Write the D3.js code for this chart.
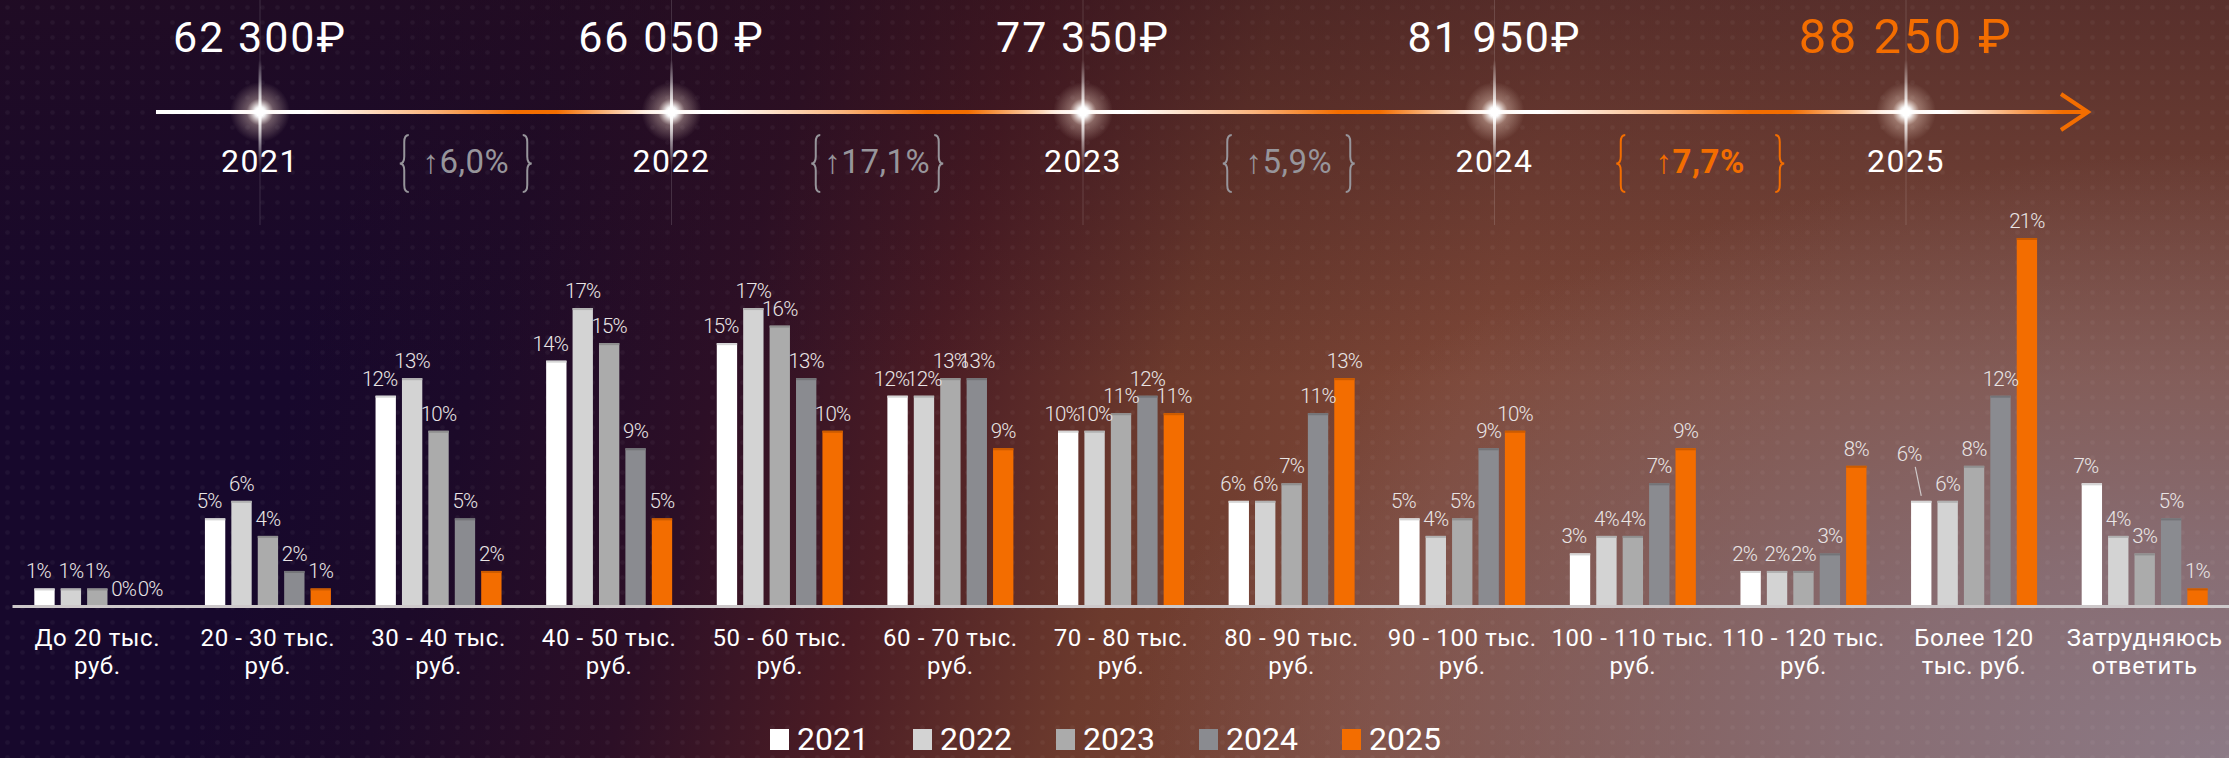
<!DOCTYPE html>
<html>
<head>
<meta charset="utf-8">
<script src="https://cdn.jsdelivr.net/npm/d3@7"></script>
<style>
  html, body { margin: 0; padding: 0; background: #1b0929; overflow: hidden; }
  svg { display: block; }
  text { font-family: Roboto, "Noto Sans", sans-serif; }
</style>
</head>
<body>
<script>
// ---- data ----
const years = ["2021", "2022", "2023", "2024", "2025"];
const categories = [
  "До 20 тыс.\nруб.", "20 - 30 тыс.\nруб.", "30 - 40 тыс.\nруб.", "40 - 50 тыс.\nруб.",
  "50 - 60 тыс.\nруб.", "60 - 70 тыс.\nруб.", "70 - 80 тыс.\nруб.", "80 - 90 тыс.\nруб.",
  "90 - 100 тыс.\nруб.", "100 - 110 тыс.\nруб.", "110 - 120 тыс.\nруб.",
  "Более 120\nтыс. руб.", "Затрудняюсь\nответить"
];
const v2021 = [1, 5, 12, 14, 15, 12, 10, 6, 5, 3, 2, 6, 7];
const v2022 = [1, 6, 13, 17, 17, 12, 10, 6, 4, 4, 2, 6, 4];
const v2023 = [1, 4, 10, 15, 16, 13, 11, 7, 5, 4, 2, 8, 3];
const v2024 = [0, 2, 5, 9, 13, 13, 12, 11, 9, 7, 3, 12, 5];
const v2025 = [0, 1, 2, 5, 10, 9, 11, 13, 10, 9, 8, 21, 1];

const salaries = [62300, 66050, 77350, 81950, 88250];
const salaryLabels = ["62 300₽", "66 050 ₽", "77 350₽", "81 950₽", "88 250 ₽"];
const growth = ["6,0", "17,1", "5,9", "7,7"];

const colors = ["#ffffff", "#d3d3d3", "#ababab", "#8a8b90", "#f36d00"];
const orange = "#f36d00";

const series = [v2021, v2022, v2023, v2024, v2025];
const rows = categories.map((c, i) => ({cat: c, vals: years.map((y, j) => ({year: y, value: series[j][i]}))}));

// ---- layout ----
const W = 2229, H = 758;
const svg = d3.select("body").append("svg").attr("width", W).attr("height", H);
const defs = svg.append("defs");

// background
const base = defs.append("linearGradient").attr("id", "bgBase")
  .attr("gradientUnits", "userSpaceOnUse")
  .attr("x1", 400).attr("y1", 0).attr("x2", 1800).attr("y2", 400);
[[0, "#17082c"], [0.12, "#1c0a29"], [0.28, "#2c0f26"], [0.42, "#4a1c24"],
 [0.58, "#6c3a2d"], [0.78, "#7d4737"], [1, "#7e4a3a"]]
  .forEach(s => base.append("stop").attr("offset", s[0]).attr("stop-color", s[1]));

const topDark = defs.append("linearGradient").attr("id", "topDark")
  .attr("gradientUnits", "userSpaceOnUse").attr("x1", 0).attr("y1", 0).attr("x2", 0).attr("y2", 380);
topDark.append("stop").attr("offset", 0).attr("stop-color", "#2a0f1a").attr("stop-opacity", 0.45);
topDark.append("stop").attr("offset", 1).attr("stop-color", "#2a0f1a").attr("stop-opacity", 0);

const mauve = defs.append("radialGradient").attr("id", "mauve")
  .attr("gradientUnits", "userSpaceOnUse").attr("cx", W).attr("cy", H).attr("r", 1100)
  .attr("gradientTransform", `translate(${W},${H}) scale(1,0.55) translate(${-W},${-H})`);
mauve.append("stop").attr("offset", 0).attr("stop-color", "#8c7a86").attr("stop-opacity", 1);
mauve.append("stop").attr("offset", 0.35).attr("stop-color", "#8a7580").attr("stop-opacity", 0.8);
mauve.append("stop").attr("offset", 1).attr("stop-color", "#8a7580").attr("stop-opacity", 0);

const dots = defs.append("pattern").attr("id", "dots").attr("patternUnits", "userSpaceOnUse")
  .attr("width", 15).attr("height", 15);
dots.append("circle").attr("cx", 7.5).attr("cy", 7.5).attr("r", 2.3).attr("fill", "#fff").attr("opacity", 0.04);

svg.append("rect").attr("width", W).attr("height", H).attr("fill", "url(#bgBase)");
svg.append("rect").attr("width", W).attr("height", H).attr("fill", "url(#topDark)");
svg.append("rect").attr("width", W).attr("height", H).attr("fill", "url(#mauve)");
svg.append("rect").attr("width", W).attr("height", H).attr("fill", "url(#dots)");

// ---- timeline ----
const xt = d3.scalePoint().domain(years).range([260, 1906]);
const lineX0 = 156, lineX1 = 2088, lineY = 112;

// faint vertical guides through each year
svg.append("g").selectAll("line").data(years).join("line")
  .attr("x1", d => xt(d)).attr("x2", d => xt(d)).attr("y1", 0).attr("y2", 225)
  .attr("stroke", "#fff").attr("stroke-opacity", 0.14).attr("stroke-width", 1);

const lg = defs.append("linearGradient").attr("id", "lineGrad")
  .attr("gradientUnits", "userSpaceOnUse").attr("x1", lineX0).attr("x2", lineX1).attr("y1", 0).attr("y2", 0);
const off = x => Math.max(0, Math.min(1, (x - lineX0) / (lineX1 - lineX0)));
const lstops = [[lineX0, "#ffffff"]];
years.forEach((y, i) => {
  const s = xt(y);
  if (i < years.length - 1) {
    const e = xt(years[i + 1]), g = e - s;
    lstops.push([s, "#ffffff"], [s + 0.12 * g, "#ffffff"], [s + 0.42 * g, "#f9b27a"],
      [s + 0.62 * g, orange], [s + 0.72 * g, orange], [e - 0.08 * g, "#fde3cf"], [e, "#ffffff"]);
  } else {
    lstops.push([s, "#ffffff"], [s + 40, "#ffffff"], [s + 110, "#f8a463"], [lineX1 - 25, orange], [lineX1, orange]);
  }
});
lstops.forEach(s => lg.append("stop").attr("offset", off(s[0])).attr("stop-color", s[1]));

svg.append("line").attr("x1", lineX0).attr("x2", lineX1 - 2).attr("y1", lineY).attr("y2", lineY)
  .attr("stroke", "url(#lineGrad)").attr("stroke-width", 4);
svg.append("path")
  .attr("d", `M${lineX1 - 27},${lineY - 18} L${lineX1},${lineY} L${lineX1 - 27},${lineY + 18}`)
  .attr("fill", "none").attr("stroke", orange).attr("stroke-width", 4);

// star glows
const glow = defs.append("radialGradient").attr("id", "glow");
[[0, 1, "#ffffff"], [0.18, 0.95, "#ffffff"], [0.45, 0.35, "#ffe6d6"], [1, 0, "#ffe6d6"]]
  .forEach(s => glow.append("stop").attr("offset", s[0]).attr("stop-color", s[2]).attr("stop-opacity", s[1]));
const flareV = defs.append("linearGradient").attr("id", "flareV").attr("x1", 0).attr("x2", 0).attr("y1", 0).attr("y2", 1);
const flareH = defs.append("linearGradient").attr("id", "flareH").attr("x1", 0).attr("x2", 1).attr("y1", 0).attr("y2", 0);
[flareV, flareH].forEach(g => {
  g.append("stop").attr("offset", 0).attr("stop-color", "#fff").attr("stop-opacity", 0);
  g.append("stop").attr("offset", 0.5).attr("stop-color", "#fff").attr("stop-opacity", 1);
  g.append("stop").attr("offset", 1).attr("stop-color", "#fff").attr("stop-opacity", 0);
});
const stars = svg.append("g").selectAll("g").data(years).join("g")
  .attr("transform", d => `translate(${xt(d)},${lineY})`);
stars.append("circle").attr("r", 30).attr("fill", "url(#glow)");
stars.append("rect").attr("x", -1.5).attr("y", -52).attr("width", 3).attr("height", 106).attr("fill", "url(#flareV)");
stars.append("rect").attr("x", -40).attr("y", -1.5).attr("width", 80).attr("height", 3).attr("fill", "url(#flareH)");
stars.append("circle").attr("r", 4.5).attr("fill", "#fff");

// salary values
svg.append("g").selectAll("text").data(salaries).join("text")
  .attr("x", (d, i) => xt(years[i]))
  .attr("y", (d, i) => i === salaries.length - 1 ? 53 : 52)
  .attr("text-anchor", "middle")
  .attr("fill", (d, i) => i === salaries.length - 1 ? orange : "#ffffff")
  .attr("font-size", (d, i) => i === salaries.length - 1 ? 49 : 43)
  .attr("letter-spacing", (d, i) => i === salaries.length - 1 ? 2.5 : 2)
  .text((d, i) => salaryLabels[i]);

// year labels
svg.append("g").selectAll("text").data(years).join("text")
  .attr("x", d => xt(d)).attr("y", 172)
  .attr("text-anchor", "middle").attr("fill", "#fff")
  .attr("font-size", 32).attr("letter-spacing", 1.5)
  .text(d => d);

// growth badges with braces
function bracePath(x, w, top, bot) {
  const m = (top + bot) / 2, r = 7, h = x + w / 2;
  return `M${x + w},${top} Q${h},${top} ${h},${top + r} L${h},${m - r} Q${h},${m} ${x},${m}` +
         ` Q${h},${m} ${h},${m + r} L${h},${bot - r} Q${h},${bot} ${x + w},${bot}`;
}
const badges = svg.append("g").selectAll("g").data(growth).join("g")
  .attr("transform", (d, i) => `translate(${(xt(years[i]) + xt(years[i + 1])) / 2},0)`);
badges.each(function(d, i) {
  const last = i === growth.length - 1;
  const col = last ? orange : "#97959b";
  const half = last ? 84 : 66;
  const g = d3.select(this);
  g.append("path").attr("d", bracePath(-half, 9, 135, 192))
    .attr("fill", "none").attr("stroke", col).attr("stroke-width", 2);
  g.append("path").attr("d", bracePath(half, -9, 135, 192))
    .attr("fill", "none").attr("stroke", col).attr("stroke-width", 2);
  g.append("text").attr("x", 0).attr("y", 173).attr("text-anchor", "middle")
    .attr("fill", col).attr("font-size", 33).attr("letter-spacing", 0.5)
    .attr("font-weight", last ? 700 : 400)
    .text("↑" + d + "%");
});

// ---- bar chart ----
const x0 = d3.scaleBand().domain(categories).range([12, 2230]).padding(0);
const x1 = d3.scaleBand().domain(years).range([0, 126]).paddingInner(0.23);
const groupOff = (x0.bandwidth() - 126) / 2;
const y = d3.scaleLinear().domain([0, 21]).range([606, 238]);
const color = d3.scaleOrdinal().domain(years).range(colors);

const groups = svg.append("g").selectAll("g").data(rows).join("g")
  .attr("transform", d => `translate(${x0(d.cat) + groupOff},0)`);

groups.selectAll("rect.bar").data(d => d.vals).join("rect").attr("class", "bar")
  .attr("x", d => x1(d.year)).attr("width", x1.bandwidth())
  .attr("y", d => y(d.value)).attr("height", d => y(0) - y(d.value))
  .attr("fill", d => color(d.year));
groups.selectAll("rect.cap").data(d => d.vals.filter(v => v.value > 0)).join("rect").attr("class", "cap")
  .attr("x", d => x1(d.year)).attr("width", x1.bandwidth())
  .attr("y", d => y(d.value)).attr("height", 2)
  .attr("fill", d => d3.color(color(d.year)).darker(0.5));

// value labels (first-year labels sit a little to the left, as in the source)
const leaderCat = "Более 120\nтыс. руб.";
groups.each(function(row) {
  const g = d3.select(this);
  row.vals.forEach(v => {
    const cx = x1(v.year) + x1.bandwidth() / 2;
    const lead = row.cat === leaderCat && v.year === "2021";
    const shift = v.year === "2021" ? -6 : 0;
    const tx = lead ? cx - 12 : cx + shift, ty = lead ? y(v.value) - 40 : y(v.value) - 10;
    g.append("text").attr("x", tx).attr("y", ty).attr("text-anchor", "middle")
      .attr("fill", "#e9e5e5").attr("font-size", 20.5).attr("font-weight", 300)
      .attr("letter-spacing", -0.8)
      .text(v.value + "%");
    if (lead) {
      g.append("line").attr("x1", cx - 6).attr("y1", ty + 6).attr("x2", cx).attr("y2", y(v.value) - 5)
        .attr("stroke", "#cfcaca").attr("stroke-width", 1.2);
    }
  });
});

// x axis
const xAxis = svg.append("g").attr("transform", `translate(0,${y(0)})`)
  .call(d3.axisBottom(x0).tickSize(0).tickPadding(0));
xAxis.select(".domain").attr("stroke", "#cdc8ca").attr("stroke-width", 3);
xAxis.selectAll(".tick text").each(function(d) {
  const t = d3.select(this).text(null).attr("y", 0).attr("dy", null)
    .attr("fill", "#ffffff").attr("font-size", 24).attr("letter-spacing", 0.6)
    .attr("font-family", "Roboto, sans-serif");
  d.split("\n").forEach((line, i) => {
    t.append("tspan").attr("x", 0).attr("y", i === 0 ? 40 : 68).text(line);
  });
});

// legend
const lx = d3.scalePoint().domain(years).range([770, 1342]);
const legend = svg.append("g").selectAll("g").data(years).join("g")
  .attr("transform", d => `translate(${lx(d)},0)`);
legend.append("rect").attr("x", 0).attr("y", 729).attr("width", 19).attr("height", 21)
  .attr("fill", d => color(d));
legend.append("text").attr("x", 27).attr("y", 750).attr("fill", "#fff")
  .attr("font-size", 32).text(d => d);
</script>
</body>
</html>
